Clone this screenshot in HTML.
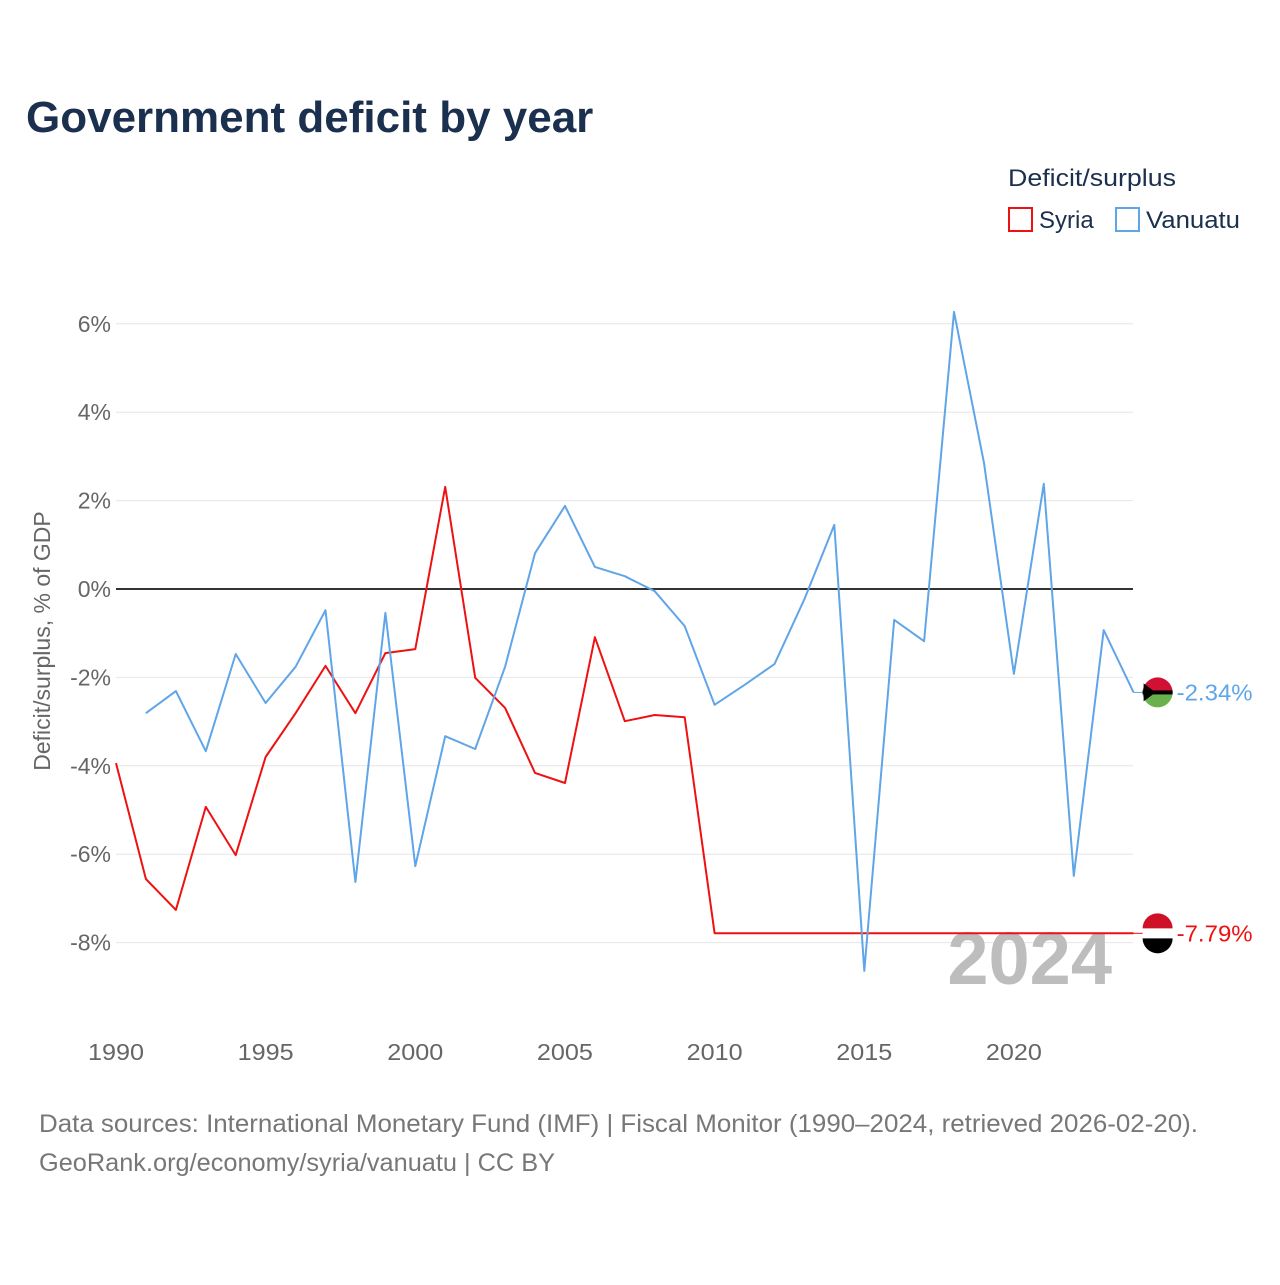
<!DOCTYPE html>
<html><head><meta charset="utf-8"><style>
html,body{margin:0;padding:0;background:#fff;}
body{width:1280px;height:1280px;overflow:hidden;font-family:"Liberation Sans",sans-serif;}
</style></head><body>
<svg id="chart" width="1280" height="1280" viewBox="0 0 1280 1280" xmlns="http://www.w3.org/2000/svg" font-family="Liberation Sans, sans-serif">
<text x="26" y="132" font-size="44" font-weight="bold" fill="#1b2f4e">Government deficit by year</text>
<text x="1008" y="186" font-size="24" fill="#1b2f4e" textLength="168" lengthAdjust="spacingAndGlyphs">Deficit/surplus</text>
<g><rect x="1009" y="208" width="23" height="23" fill="none" stroke="#ee1111" stroke-width="2"/><text x="1039" y="228" font-size="24" fill="#1b2f4e">Syria</text></g>
<g><rect x="1116" y="208" width="23" height="23" fill="none" stroke="#5fa5e8" stroke-width="2"/><text x="1146" y="228" font-size="24" fill="#1b2f4e" textLength="94" lengthAdjust="spacingAndGlyphs">Vanuatu</text></g>
<g id="grid"></g><g id="yticks"></g><g id="xticks"></g>
<text transform="translate(50,641) rotate(-90)" text-anchor="middle" font-size="23" fill="#666">Deficit/surplus, % of GDP</text>
<text x="1112" y="984" text-anchor="end" font-size="74" font-weight="bold" fill="#bdbdbd">2024</text>
<g id="series"></g>
<text x="39" y="1132" font-size="25" fill="#777" textLength="1159" lengthAdjust="spacingAndGlyphs">Data sources: International Monetary Fund (IMF) | Fiscal Monitor (1990–2024, retrieved 2026-02-20).</text>
<text x="39" y="1171" font-size="25" fill="#777" textLength="516" lengthAdjust="spacingAndGlyphs">GeoRank.org/economy/syria/vanuatu | CC BY</text>
</svg>
<script>
const years=[1990,1991,1992,1993,1994,1995,1996,1997,1998,1999,2000,2001,2002,2003,2004,2005,2006,2007,2008,2009,2010,2011,2012,2013,2014,2015,2016,2017,2018,2019,2020,2021,2022,2023,2024];
const syria=[-3.94,-6.56,-7.26,-4.93,-6.02,-3.80,-2.81,-1.74,-2.81,-1.45,-1.36,2.31,-2.01,-2.69,-4.16,-4.39,-1.09,-2.99,-2.85,-2.90,-7.79,-7.79,-7.79,-7.79,-7.79,-7.79,-7.79,-7.79,-7.79,-7.79,-7.79,-7.79,-7.79,-7.79,-7.79];
const vanuatu=[null,-2.81,-2.31,-3.67,-1.47,-2.58,-1.76,-0.48,-6.63,-0.54,-6.27,-3.33,-3.62,-1.76,0.81,1.88,0.50,0.29,-0.05,-0.84,-2.62,-2.17,-1.70,-0.23,1.45,-8.64,-0.70,-1.18,6.27,2.85,-1.92,2.38,-6.49,-0.93,-2.34];
const yTicks=[6,4,2,0,-2,-4,-6,-8];
const xTicks=[1990,1995,2000,2005,2010,2015,2020];
const NS="http://www.w3.org/2000/svg";
const x=v=>116+(v-1990)*29.93;
const y=v=>589-v*44.2;
function mk(t,a,p){const e=document.createElementNS(NS,t);for(const k in a)e.setAttribute(k,a[k]);p.appendChild(e);return e;}
const grid=document.getElementById('grid'),yt=document.getElementById('yticks'),xt=document.getElementById('xticks'),ser=document.getElementById('series');
yTicks.forEach(t=>{
 const l=mk('line',{x1:116,x2:1133,y1:y(t),y2:y(t),stroke:t===0?'#333':'#e6e6e6','stroke-width':t===0?2:1},grid);
 
 
 const tx=mk('text',{x:111,y:y(t)+8,'text-anchor':'end','font-size':23,fill:'#666'},yt);
 tx.textContent=t+'%';
 
 
});
xTicks.forEach(t=>{
 const tx=mk('text',{x:x(t),y:1060,'text-anchor':'middle','font-size':23,fill:'#666',textLength:56,lengthAdjust:'spacingAndGlyphs'},xt);
 tx.textContent=t;
 
 
});
function line(vals,color,name){
 let d='';let started=false;
 vals.forEach((v,i)=>{if(v===null)return;d+=(started?'L':'M')+x(years[i]).toFixed(1)+','+y(v).toFixed(1);started=true;});
 const p=mk('path',{d:d,fill:'none',stroke:color,'stroke-width':2,'stroke-linejoin':'round'},ser);
 
 
 const last=vals[vals.length-1];
 mk('line',{x1:x(2024),x2:x(2024)+12,y1:y(last),y2:y(last),stroke:color,'stroke-width':1},ser);
 return last;
}
const sl=line(syria,'#ee1111','syria-line');
const vl=line(vanuatu,'#5fa5e8','vanuatu-line');
const fx=x(2024)+24;
const gs=mk('g',{},ser);


mk('circle',{cx:fx,cy:y(sl),r:15,fill:'#fff'},gs);
mk('path',{d:`M${fx-15},${y(sl)-5} A15,15 0 0 1 ${fx+15},${y(sl)-5} Z`,fill:'#ce1126'},gs);
mk('path',{d:`M${fx-15},${y(sl)+5} A15,15 0 0 0 ${fx+15},${y(sl)+5} Z`,fill:'#000'},gs);
const gv=mk('g',{},ser);


mk('path',{d:`M${fx-15},${y(vl)} A15,15 0 0 1 ${fx+15},${y(vl)} Z`,fill:'#d21034'},gv);
mk('path',{d:`M${fx-15},${y(vl)} A15,15 0 0 0 ${fx+15},${y(vl)} Z`,fill:'#6ab04c'},gv);
mk('rect',{x:fx-15,y:y(vl)-2,width:30,height:4,fill:'#000'},gv);
mk('path',{d:`M${fx-14},${y(vl)-9} L${fx-2},${y(vl)} L${fx-14},${y(vl)+9} Z`,fill:'#000'},gv);
const t1=mk('text',{x:fx+19,y:y(sl)+8,'font-size':23,fill:'#ee1111',textLength:76,lengthAdjust:'spacingAndGlyphs'},ser);
t1.textContent=sl.toFixed(2)+'%';


const t2=mk('text',{x:fx+19,y:y(vl)+8,'font-size':23,fill:'#5fa5e8',textLength:76,lengthAdjust:'spacingAndGlyphs'},ser);
t2.textContent=vl.toFixed(2)+'%';


</script>
</body></html>
